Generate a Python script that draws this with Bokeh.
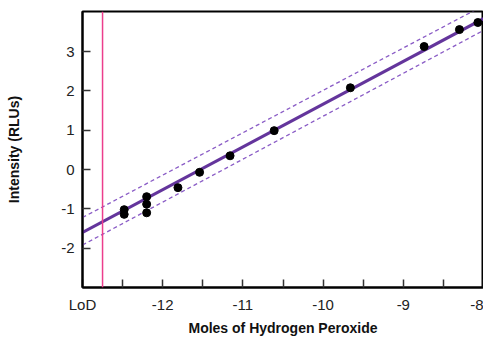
from bokeh.plotting import figure
from bokeh.models import FixedTicker, Span, Range1d
from bokeh.embed import file_html
from bokeh.resources import INLINE

# data points (moles log10, intensity)
x_pts = [-12.48, -12.48, -12.2, -12.2, -12.2, -11.81, -11.54, -11.16, -10.61, -9.66, -8.74, -8.30, -8.07]
y_pts = [-1.02, -1.14, -0.69, -0.88, -1.10, -0.46, -0.07, 0.35, 0.99, 2.08, 3.13, 3.56, 3.74]

# fit line and bands
fit_x = [-13.0, -8.0]
fit_y = [-1.60, 3.84]
upper_y = [-1.22, 4.17]
lower_y = [-1.92, 3.54]
lod_x = -12.75

x_ticks = [-13, -12.5, -12, -11.5, -11, -10.5, -10, -9.5, -9, -8.5, -8]
x_labels = {-13: "LoD", -12.5: "", -12: "-12", -11.5: "", -11: "-11", -10.5: "",
            -10: "-10", -9.5: "", -9: "-9", -8.5: "", -8: "-8"}
y_ticks = [-2, -1, 0, 1, 2, 3]
y_labels = {-2: "-2", -1: "-1", 0: "0", 1: "1", 2: "2", 3: "3"}

FONT = "Liberation Sans Narrow, Liberation Sans, sans-serif"

p = figure(frame_width=401, frame_height=276, output_backend="svg", toolbar_location=None,
           x_range=Range1d(-13, -8), y_range=Range1d(-3, 4.02),
           min_border_left=82, min_border_right=0, min_border_top=11, min_border_bottom=0)
p.grid.visible = False
p.outline_line_color = "black"
p.outline_line_width = 2
p.background_fill_color = "white"
p.border_fill_color = "white"

p.add_layout(Span(location=lod_x, dimension="height", line_color="#ec3d8c", line_width=1.5))

p.line(fit_x, upper_y, line_color="#8a5cc6", line_width=1.3, line_dash="4 3")
p.line(fit_x, lower_y, line_color="#8a5cc6", line_width=1.3, line_dash="4 3")
p.line(fit_x, fit_y, line_color="#64359c", line_width=3.2)
p.scatter(x_pts, y_pts, size=8, color="black")

xa = p.xaxis[0]
xa.ticker = FixedTicker(ticks=x_ticks)
xa.major_label_overrides = x_labels
xa.minor_tick_line_color = None
xa.major_tick_in = 8
xa.major_tick_out = 0
xa.major_label_standoff = 8
xa.axis_label = "Moles of Hydrogen Peroxide"
xa.axis_label_standoff = 4

ya = p.yaxis[0]
ya.ticker = FixedTicker(ticks=y_ticks)
ya.major_label_overrides = y_labels
ya.minor_tick_line_color = None
ya.major_tick_in = 8
ya.major_tick_out = 0
ya.major_label_standoff = 8
ya.axis_label = "Intensity (RLUs)"
ya.axis_label_standoff = 36

for ax in (xa, ya):
    ax.axis_line_color = "black"
    ax.axis_line_width = 2
    ax.major_tick_line_color = "#333333"
    ax.major_tick_line_width = 1.5
    ax.major_label_text_font = FONT
    ax.major_label_text_font_size = "15px"
    ax.major_label_text_color = "#222222"
    ax.axis_label_text_font = FONT
    ax.axis_label_text_font_size = "14px"
    ax.axis_label_text_font_style = "bold"
    ax.axis_label_text_color = "#111111"

open("out.html", "w").write(file_html(p, INLINE))
